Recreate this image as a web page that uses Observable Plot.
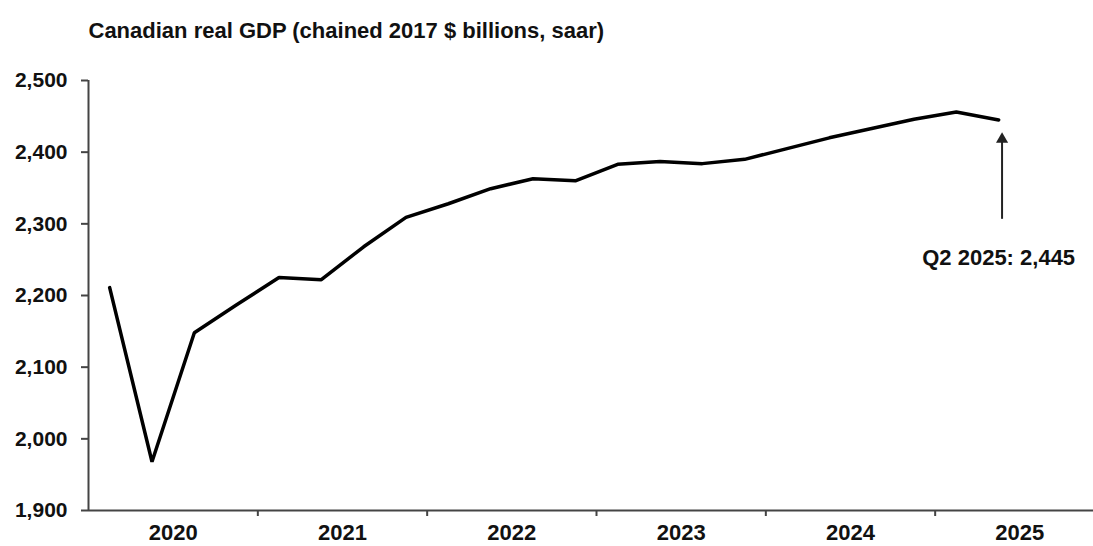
<!DOCTYPE html>
<html><head><meta charset="utf-8">
<script src="https://cdn.jsdelivr.net/npm/d3@7"></script>
<script src="https://cdn.jsdelivr.net/npm/@observablehq/plot@0.6"></script>
<style>
body{margin:0;background:#fff;}
#chart svg{font-family:"Liberation Sans",Arial,sans-serif;}
</style>
</head><body><div id="chart"></div>
<script>
const chartTitle = "Canadian real GDP (chained 2017 $ billions, saar)";
const quarterYears = [2020,2020,2020,2020,2021,2021,2021,2021,2022,2022,2022,2022,2023,2023,2023,2023,2024,2024,2024,2024,2025,2025];
const quarterNums  = [1,2,3,4,1,2,3,4,1,2,3,4,1,2,3,4,1,2,3,4,1,2];
const gdp = [2211,1968,2148,2187,2225,2222,2268,2309,2328,2349,2363,2360,2383,2387,2384,2390,2405,2420,2433,2446,2456,2445];
const yTicks = [1900,2000,2100,2200,2300,2400,2500];
const yearLabels = [2020,2021,2022,2023,2024,2025];
const annotationText = "Q2 2025: 2,445";
const annotationArrowFrom = [2307];
const annotationArrowTo = [2423];
const annotationLabelY = [2253];

const rows = gdp.map((v,i) => ({t: quarterYears[i] + (quarterNums[i]-0.5)/4, v}));
const lastT = rows[rows.length-1].t;

const plot = Plot.plot({
  width: 1093,
  height: 546,
  marginLeft: 88,
  marginRight: 0,
  marginTop: 80,
  marginBottom: 36,
  x: {domain: [2020, 2026], range: [88, 1104], axis: null},
  y: {domain: [1900, 2500], axis: null},
  marks: [
    Plot.ruleY([1900], {stroke: "#444", strokeWidth: 2}),
    Plot.ruleX([2020], {y1: 1900, y2: 2500, stroke: "#444", strokeWidth: 2}),
    Plot.axisY(yTicks, {tickSize: 7, tickPadding: 14, tickFormat: d3.format(","), fontSize: 21, fontWeight: "bold", stroke: "#444", strokeWidth: 2, color: "#111", label: null}),
    Plot.axisX(yearLabels.slice(1), {tickSize: 6, tickFormat: () => "", stroke: "#444", strokeWidth: 2, label: null}),
    Plot.axisX(yearLabels.map(y => y + 0.5), {tickSize: 0, tickPadding: 14, tickFormat: d => String(Math.floor(d)), fontSize: 22, fontWeight: "bold", color: "#111", label: null}),
    Plot.line(rows, {x: "t", y: "v", stroke: "#000", strokeWidth: 3.5, strokeLinejoin: "miter"}),
    Plot.link([0], {x1: () => lastT + 0.02, x2: () => lastT + 0.02, y1: () => annotationArrowFrom[0], y2: () => annotationArrowTo[0] - 6, stroke: "#222", strokeWidth: 2}),
    Plot.dot([0], {x: () => lastT + 0.02, y: () => annotationArrowTo[0] - 5, symbol: "triangle", r: 4.5, fill: "#222", stroke: null}),
    Plot.text([annotationText], {x: () => lastT, y: () => annotationLabelY[0], text: d => d, fontSize: 22, fontWeight: "bold", fill: "#111"}),
    Plot.text([chartTitle], {frameAnchor: "top-left", dy: -58, textAnchor: "start", text: d => d, fontSize: 22, fontWeight: "bold", fill: "#111"})
  ]
});
document.getElementById("chart").appendChild(plot);
</script>
</body></html>
